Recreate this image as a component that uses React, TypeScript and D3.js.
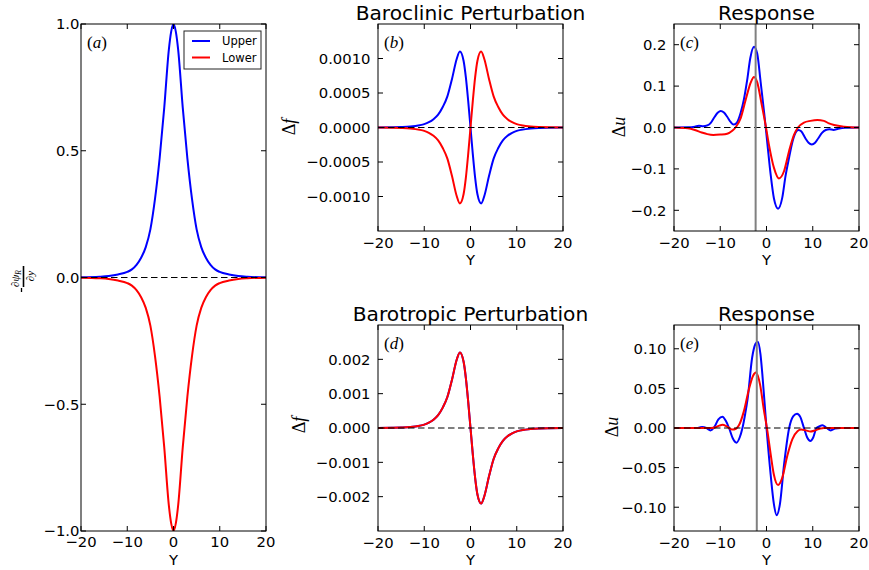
import React from "react";
import * as d3 from "d3";

// ---------- shared axis data ----------
const xTickValues = [-20, -10, 0, 10, 20];
const xTickLabels = ["\u221220", "\u221210", "0", "10", "20"];

// ---------- panel (a) ----------
const aY = [-20, -16, -14, -12, -10, -9, -8, -7, -6, -5, -4, -3, -2, -1, -0.5, 0, 0.5, 1, 2, 3, 4, 5, 6, 7, 8, 9, 10, 12, 14, 16, 20];
const aUpper = [0.0005, 0.003, 0.006, 0.012, 0.022, 0.032, 0.05, 0.078, 0.12, 0.19, 0.31, 0.47, 0.67, 0.9, 0.97, 1.0, 0.97, 0.9, 0.67, 0.47, 0.31, 0.19, 0.12, 0.078, 0.05, 0.032, 0.022, 0.012, 0.006, 0.003, 0.0005];
const aLower = [-0.0005, -0.003, -0.006, -0.012, -0.022, -0.032, -0.05, -0.078, -0.12, -0.19, -0.31, -0.47, -0.67, -0.9, -0.97, -1.0, -0.97, -0.9, -0.67, -0.47, -0.31, -0.19, -0.12, -0.078, -0.05, -0.032, -0.022, -0.012, -0.006, -0.003, -0.0005];
const aYTicks = [-1, -0.5, 0, 0.5, 1];
const aYTickLabels = ["\u22121.0", "\u22120.5", "0.0", "0.5", "1.0"];

// ---------- panel (b) baroclinic perturbation ----------
const bY = [-20, -17, -15, -13, -11, -10, -9, -8, -7, -6, -5, -4, -3, -2.3, -1.5, -1, -0.5, 0, 0.5, 1, 1.5, 2.3, 3, 4, 5, 6, 7, 8, 9, 10, 11, 13, 15, 17, 20];
const bUpper = [0, 0.0000022, 0.0000055, 0.0000132, 0.000033, 0.0000495, 0.000077, 0.000121, 0.000187, 0.000297, 0.000451, 0.000704, 0.00099, 0.0011, 0.000968, 0.000726, 0.000385, 0, -0.000385, -0.000726, -0.000968, -0.0011, -0.00099, -0.000704, -0.000451, -0.000297, -0.000187, -0.000121, -0.000077, -0.0000495, -0.000033, -0.0000132, -0.0000055, -0.0000022, 0];
const bLower = [0, -0.0000022, -0.0000055, -0.0000132, -0.000033, -0.0000495, -0.000077, -0.000121, -0.000187, -0.000297, -0.000451, -0.000704, -0.00099, -0.0011, -0.000968, -0.000726, -0.000385, 0, 0.000385, 0.000726, 0.000968, 0.0011, 0.00099, 0.000704, 0.000451, 0.000297, 0.000187, 0.000121, 0.000077, 0.0000495, 0.000033, 0.0000132, 0.0000055, 0.0000022, 0];
const bYTicks = [-0.001, -0.0005, 0, 0.0005, 0.001];
const bYTickLabels = ["\u22120.0010", "\u22120.0005", "0.0000", "0.0005", "0.0010"];

// ---------- panel (c) response to baroclinic ----------
const cUpperY = [-20, -17, -15.5, -14.6, -13.7, -12.8, -12, -11.2, -10.5, -9.9, -9.2, -8.5, -7.8, -7.1, -6.4, -5.6, -4.9, -4.2, -3.5, -2.7, -2.0, -1.3, -0.5, 0.2, 0.9, 1.6, 2.5, 3.4, 4.1, 4.9, 5.6, 6.3, 6.9, 7.5, 8.4, 9.1, 9.8, 10.5, 11.2, 12, 12.8, 13.6, 14.5, 15.5, 17, 20];
const cUpper = [0, 0.0005, 0.002, 0.004, 0.003, 0.005, 0.012, 0.026, 0.036, 0.04, 0.036, 0.026, 0.014, 0.007, 0.012, 0.035, 0.067, 0.113, 0.168, 0.195, 0.178, 0.113, 0.035, -0.04, -0.114, -0.171, -0.196, -0.17, -0.118, -0.072, -0.035, -0.012, -0.006, -0.009, -0.026, -0.037, -0.041, -0.037, -0.026, -0.013, -0.006, -0.004, -0.006, -0.003, -0.0005, 0];
const cLowerY = [-20, -17, -15.5, -14, -12.8, -11.5, -10, -8.5, -7.4, -6.7, -5.6, -4.5, -3.4, -2.7, -2.0, -1.1, -0.2, 0.5, 1.6, 2.7, 3.8, 4.9, 5.9, 6.8, 8.1, 9.5, 11, 12.4, 13.5, 14.6, 16.8, 20];
const cLower = [0, -0.002, -0.006, -0.012, -0.016, -0.018, -0.017, -0.015, -0.008, 0, 0.022, 0.067, 0.109, 0.122, 0.109, 0.059, 0.006, -0.04, -0.097, -0.123, -0.105, -0.056, -0.019, 0, 0.012, 0.016, 0.018, 0.016, 0.01, 0.006, 0.002, 0];
const cYTicks = [-0.2, -0.1, 0, 0.1, 0.2];
const cYTickLabels = ["\u22120.2", "\u22120.1", "0.0", "0.1", "0.2"];
const cMarkerY = -2.35;

// ---------- panel (d) barotropic perturbation ----------
const dY = [-20, -17, -15, -13, -11, -10, -9, -8, -7, -6, -5, -4, -3, -2.3, -1.5, -1, -0.5, 0, 0.5, 1, 1.5, 2.3, 3, 4, 5, 6, 7, 8, 9, 10, 11, 13, 15, 17, 20];
const dUpper = [0, 0.0000044, 0.000011, 0.0000264, 0.000066, 0.000099, 0.000154, 0.000242, 0.000374, 0.000594, 0.000902, 0.001408, 0.00198, 0.0022, 0.001936, 0.001452, 0.00077, 0, -0.00077, -0.001452, -0.001936, -0.0022, -0.00198, -0.001408, -0.000902, -0.000594, -0.000374, -0.000242, -0.000154, -0.000099, -0.000066, -0.0000264, -0.000011, -0.0000044, 0];
const dLower = [0, 0.0000044, 0.000011, 0.0000264, 0.000066, 0.000099, 0.000154, 0.000242, 0.000374, 0.000594, 0.000902, 0.001408, 0.00198, 0.0022, 0.001936, 0.001452, 0.00077, 0, -0.00077, -0.001452, -0.001936, -0.0022, -0.00198, -0.001408, -0.000902, -0.000594, -0.000374, -0.000242, -0.000154, -0.000099, -0.000066, -0.0000264, -0.000011, -0.0000044, 0];
const dYTicks = [-0.002, -0.001, 0, 0.001, 0.002];
const dYTickLabels = ["\u22120.002", "\u22120.001", "0.000", "0.001", "0.002"];

// ---------- panel (e) response to barotropic ----------
const eUpperY = [-20, -15, -14.5, -13.9, -13, -12.1, -11.3, -10.4, -9.5, -8.8, -8.1, -7.3, -6.5, -5.8, -5.2, -4.6, -4.1, -3.1, -2.4, -1.9, -1.3, -0.9, 0, 0.9, 1.6, 2.2, 2.9, 3.8, 4.9, 5.8, 6.6, 7.3, 8.1, 8.8, 9.5, 10.1, 10.8, 11.4, 12.1, 13, 13.9, 14.8, 16, 20];
const eUpper = [0, 0, 0.0005, 0.0013, 0, -0.003, 0.001, 0.011, 0.0143, 0.009, 0, -0.013, -0.0185, -0.012, 0, 0.018, 0.036, 0.089, 0.106, 0.109, 0.093, 0.068, 0, -0.059, -0.096, -0.11, -0.096, -0.046, 0, 0.015, 0.018, 0.014, 0, -0.012, -0.0165, -0.012, 0, 0.002, 0.0034, 0, -0.003, -0.0008, 0, 0];
const eLowerY = [-20, -12, -11, -10.2, -9.5, -8.6, -7.4, -6.6, -6, -4.9, -3.8, -2.9, -2.3, -1.4, -0.6, 0.2, 0.9, 1.6, 2.5, 3.4, 4.5, 5.6, 6.7, 7.5, 8.5, 9.5, 10.5, 11.5, 12.4, 20];
const eLower = [0, 0, 0.001, 0.003, 0.004, 0.002, -0.002, -0.001, 0.003, 0.021, 0.049, 0.066, 0.07, 0.055, 0.024, -0.004, -0.033, -0.059, -0.072, -0.063, -0.035, -0.014, -0.004, -0.002, -0.003, -0.0045, -0.003, -0.001, 0, 0];
const eYTicks = [-0.1, -0.05, 0, 0.05, 0.1];
const eYTickLabels = ["\u22120.10", "\u22120.05", "0.00", "0.05", "0.10"];
const eMarkerY = -2.1;

const legendNames = ["Upper", "Lower"];

const BLUE = "#0000ff";
const RED = "#ff0000";
const SANS = "DejaVu Sans";
const SERIF = "Liberation Serif";
const TICK_FS = 14.8;
const TITLE_FS = 20.2;

type Box = { l: number; r: number; t: number; b: number };
type Series = { xs: number[]; ys: number[]; color: string };

function Panel(props: {
  id: string;
  box: Box;
  yDomain: [number, number];
  yTicks: number[];
  yTickLabels: string[];
  series: Series[];
  vline?: number;
  title?: string;
  titleBaseline?: number;
  label: string;
  yPad: number;
  xLabelOffset: number;
  xTitleOffset: number;
  children?: React.ReactNode;
}) {
  const { id, box, yDomain, yTicks, yTickLabels, series, vline, title, titleBaseline, label, yPad, xLabelOffset, xTitleOffset } = props;
  const x = d3.scaleLinear().domain([-20, 20]).range([box.l, box.r]);
  const y = d3.scaleLinear().domain(yDomain).range([box.b, box.t]);
  const line = d3
    .line<[number, number]>()
    .x((d) => x(d[0]))
    .y((d) => y(d[1]))
    .curve(d3.curveMonotoneX);
  const TL = 5;
  const cx = (box.l + box.r) / 2;
  return (
    <g>
      <defs>
        <clipPath id={`clip-${id}`}>
          <rect x={box.l} y={box.t} width={box.r - box.l} height={box.b - box.t} />
        </clipPath>
      </defs>
      <g clipPath={`url(#clip-${id})`}>
        {series.map((s, i) => (
          <path
            key={i}
            d={line(d3.zip(s.xs, s.ys) as [number, number][]) || ""}
            fill="none"
            stroke={s.color}
            strokeWidth={2}
          />
        ))}
        <line x1={box.l} x2={box.r} y1={y(0)} y2={y(0)} stroke="black" strokeWidth={1.1} strokeDasharray="6.5,3.5" />
        {vline !== undefined && (
          <line x1={x(vline)} x2={x(vline)} y1={box.t} y2={box.b} stroke="#808080" strokeWidth={2} />
        )}
      </g>
      <rect x={box.l} y={box.t} width={box.r - box.l} height={box.b - box.t} fill="none" stroke="black" strokeWidth={1} />
      {xTickValues.map((v, i) => (
        <g key={`xt${i}`}>
          <line x1={x(v)} x2={x(v)} y1={box.b} y2={box.b - TL} stroke="black" strokeWidth={1} />
          <line x1={x(v)} x2={x(v)} y1={box.t} y2={box.t + TL} stroke="black" strokeWidth={1} />
          <text x={x(v)} y={box.b + xLabelOffset} textAnchor="middle" fontFamily={SANS} fontSize={TICK_FS}>
            {xTickLabels[i]}
          </text>
        </g>
      ))}
      {yTicks.map((v, i) => (
        <g key={`yt${i}`}>
          <line x1={box.l} x2={box.l + TL} y1={y(v)} y2={y(v)} stroke="black" strokeWidth={1} />
          <line x1={box.r} x2={box.r - TL} y1={y(v)} y2={y(v)} stroke="black" strokeWidth={1} />
          <text x={box.l - yPad} y={y(v)} dy="0.36em" textAnchor="end" fontFamily={SANS} fontSize={TICK_FS}>
            {yTickLabels[i]}
          </text>
        </g>
      ))}
      <text x={cx} y={box.b + xTitleOffset} textAnchor="middle" fontFamily={SANS} fontSize={TICK_FS}>
        Y
      </text>
      {title && (
        <text x={cx} y={titleBaseline} textAnchor="middle" fontFamily={SANS} fontSize={TITLE_FS}>
          {title}
        </text>
      )}
      <text x={box.l + 6} y={box.t + 24} fontFamily={SERIF} fontSize={17}>
        (<tspan fontStyle="italic">{label}</tspan>)
      </text>
      {props.children}
    </g>
  );
}

function YLabelDelta(props: { x: number; y: number; v: string }) {
  return (
    <text
      transform={`translate(${props.x},${props.y}) rotate(-90)`}
      textAnchor="middle"
      fontFamily={SERIF}
      fontSize={18}
    >
      {"\u0394"}
      <tspan fontStyle="italic">{props.v}</tspan>
    </text>
  );
}

export default function App() {
  const boxA: Box = { l: 81, r: 266, t: 24, b: 531 };
  const boxB: Box = { l: 378, r: 563, t: 24, b: 231 };
  const boxC: Box = { l: 674, r: 859, t: 24, b: 231 };
  const boxD: Box = { l: 378, r: 563, t: 325, b: 531 };
  const boxE: Box = { l: 674, r: 859, t: 325, b: 531 };

  return (
    <svg
      width={869}
      height={570}
      viewBox="0 0 869 570"
      style={{ position: "absolute", left: 0, top: 0, display: "block", background: "white" }}
    >
      <rect x={0} y={0} width={869} height={570} fill="white" />
      <Panel
        id="a"
        box={boxA}
        yDomain={[-1, 1]}
        yTicks={aYTicks}
        yTickLabels={aYTickLabels}
        series={[
          { xs: aY, ys: aUpper, color: BLUE },
          { xs: aY, ys: aLower, color: RED },
        ]}
        label="a"
        yPad={1.5}
        xLabelOffset={15.5}
        xTitleOffset={34}
      >
        <g>
          <rect x={184} y={31} width={77} height={38} fill="white" stroke="#222" strokeWidth={1} />
          <line x1={192} x2={210} y1={41} y2={41} stroke={BLUE} strokeWidth={2} />
          <line x1={192} x2={210} y1={57.5} y2={57.5} stroke={RED} strokeWidth={2} />
          <text x={222} y={45} fontFamily={SANS} fontSize={11.5}>
            {legendNames[0]}
          </text>
          <text x={222} y={61.5} fontFamily={SANS} fontSize={11.5}>
            {legendNames[1]}
          </text>
        </g>
        <g transform="translate(23.5,277) rotate(-90)">
          <line x1={-15} x2={-11} y1={-2} y2={-2} stroke="black" strokeWidth={1.3} />
          <line x1={-10} x2={11} y1={0} y2={0} stroke="black" strokeWidth={1.6} />
          <text x={-1.5} y={-5} textAnchor="middle" fontFamily={SERIF} fontStyle="italic" fontSize={11}>
            {"\u2202\u03c8"}
            <tspan fontSize={7.5} dy={2}>
              R
            </tspan>
          </text>
          <text x={1} y={10} textAnchor="middle" fontFamily={SERIF} fontStyle="italic" fontSize={11}>
            {"\u2202y"}
          </text>
        </g>
      </Panel>
      <Panel
        id="b"
        box={boxB}
        yDomain={[-0.0015, 0.0015]}
        yTicks={bYTicks}
        yTickLabels={bYTickLabels}
        series={[
          { xs: bY, ys: bUpper, color: BLUE },
          { xs: bY, ys: bLower, color: RED },
        ]}
        title="Baroclinic Perturbation"
        titleBaseline={20}
        label="b"
        yPad={7.5}
        xLabelOffset={17}
        xTitleOffset={34}
      >
        <YLabelDelta x={295} y={127} v="f" />
      </Panel>
      <Panel
        id="c"
        box={boxC}
        yDomain={[-0.25, 0.25]}
        yTicks={cYTicks}
        yTickLabels={cYTickLabels}
        series={[
          { xs: cUpperY, ys: cUpper, color: BLUE },
          { xs: cLowerY, ys: cLower, color: RED },
        ]}
        vline={cMarkerY}
        title="Response"
        titleBaseline={20}
        label="c"
        yPad={7.5}
        xLabelOffset={17}
        xTitleOffset={34}
      >
        <YLabelDelta x={625} y={127} v="u" />
      </Panel>
      <Panel
        id="d"
        box={boxD}
        yDomain={[-0.003, 0.003]}
        yTicks={dYTicks}
        yTickLabels={dYTickLabels}
        series={[
          { xs: dY, ys: dUpper, color: BLUE },
          { xs: dY, ys: dLower, color: RED },
        ]}
        title="Barotropic Perturbation"
        titleBaseline={320.5}
        label="d"
        yPad={7.5}
        xLabelOffset={17}
        xTitleOffset={34}
      >
        <YLabelDelta x={305} y={425} v="f" />
      </Panel>
      <Panel
        id="e"
        box={boxE}
        yDomain={[-0.13, 0.13]}
        yTicks={eYTicks}
        yTickLabels={eYTickLabels}
        series={[
          { xs: eUpperY, ys: eUpper, color: BLUE },
          { xs: eLowerY, ys: eLower, color: RED },
        ]}
        vline={eMarkerY}
        title="Response"
        titleBaseline={320.5}
        label="e"
        yPad={7.5}
        xLabelOffset={17}
        xTitleOffset={34}
      >
        <YLabelDelta x={617.5} y={427} v="u" />
      </Panel>
    </svg>
  );
}
